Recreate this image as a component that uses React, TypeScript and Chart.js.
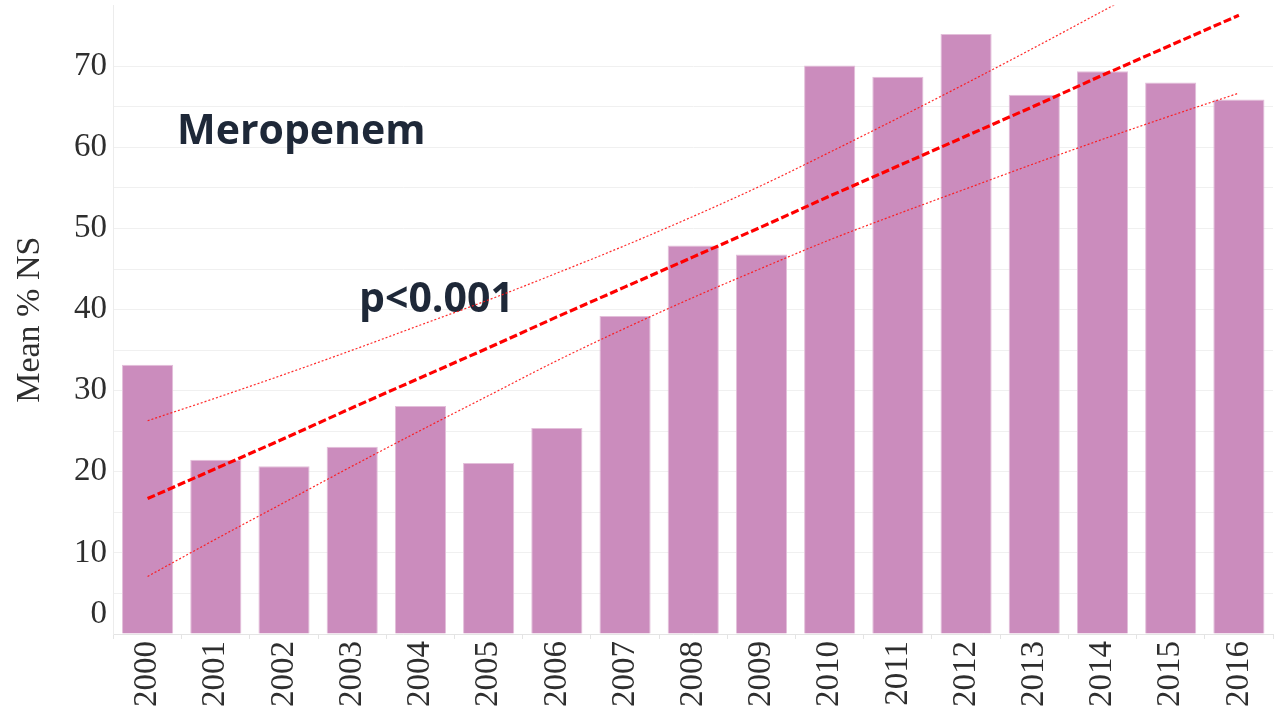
import { useEffect, useRef } from 'react';
import { Chart, registerables } from 'chart.js';

Chart.register(...registerables);

// ---- data ----
const years = ['2000', '2001', '2002', '2003', '2004', '2005', '2006', '2007', '2008', '2009', '2010', '2011', '2012', '2013', '2014', '2015', '2016'];
const meanNS = [33.2, 21.5, 20.7, 23.1, 28.1, 21.1, 25.4, 39.2, 47.9, 46.8, 70.1, 68.7, 74.0, 66.5, 69.4, 68.0, 65.9];
const trendFit = [16.7, 20.4, 24.1, 27.9, 31.6, 35.3, 39.1, 42.8, 46.5, 50.2, 54.0, 57.7, 61.4, 65.1, 68.9, 72.6, 76.3];
const trendUpper = [26.3, 29.1, 32.0, 35.0, 38.1, 41.2, 44.5, 47.9, 51.5, 55.3, 59.4, 63.6, 67.9, 72.3, 76.8, 81.3, null];
const trendLower = [7.1, 11.7, 16.2, 20.7, 25.1, 29.4, 33.7, 37.7, 41.5, 45.1, 48.6, 51.8, 54.9, 58.0, 61.0, 63.9, 66.7];
const yTickLabels = [0, 10, 20, 30, 40, 50, 60, 70];
const yTitle = 'Mean % NS';
const drugLabel = 'Meropenem';
const pLabel = 'p<0.001';

const SERIF = "'Liberation Serif', 'Times New Roman', serif";

export default function App() {
  const ref = useRef<HTMLCanvasElement>(null);

  useEffect(() => {
    if (!ref.current) return;

    const annotations = {
      id: 'annotations',
      beforeDatasetsDraw(chart: any) {
        const ctx = chart.ctx;
        ctx.save();
        ctx.fillStyle = '#1E2838';
        ctx.font = "bold 41px 'Open Sans'";
        ctx.textBaseline = 'alphabetic';
        ctx.textAlign = 'left';
        ctx.fillText(drugLabel, 177, 144);
        ctx.fillText(pLabel, 359, 312);
        ctx.restore();
      },
    };

    const chart = new Chart(ref.current, {
      type: 'bar',
      data: {
        labels: years,
        datasets: [
          {
            type: 'line',
            label: 'fit',
            data: trendFit,
            borderColor: '#FF0000',
            borderWidth: 3.2,
            borderDash: [8, 3],
            pointRadius: 0,
            fill: false,
            order: 0,
          } as any,
          {
            type: 'line',
            label: 'upper',
            data: trendUpper,
            borderColor: 'rgba(255,20,20,0.9)',
            borderWidth: 1.2,
            borderDash: [2, 2],
            pointRadius: 0,
            cubicInterpolationMode: 'monotone',
            fill: false,
            order: 0,
          } as any,
          {
            type: 'line',
            label: 'lower',
            data: trendLower,
            borderColor: 'rgba(255,20,20,0.9)',
            borderWidth: 1.2,
            borderDash: [2, 2],
            pointRadius: 0,
            cubicInterpolationMode: 'monotone',
            fill: false,
            order: 0,
          } as any,
          {
            type: 'bar',
            label: yTitle,
            data: meanNS,
            backgroundColor: '#CB8CBD',
            borderColor: '#E3BFDA',
            borderWidth: 1,
            barPercentage: 0.75,
            categoryPercentage: 1.0,
            order: 1,
          } as any,
        ],
      },
      options: {
        animation: false,
        responsive: true,
        maintainAspectRatio: false,
        layout: { padding: { top: 5.5, right: 7, left: 0, bottom: 0 } },
        plugins: {
          legend: { display: false },
          tooltip: { enabled: false },
        },
        scales: {
          x: {
            grid: {
              drawOnChartArea: false,
              drawTicks: true,
              tickLength: 5,
              color: '#E4E4E4',
            },
            border: { color: '#E4E4E4' },
            ticks: {
              font: { family: SERIF, size: 33 },
              color: '#2E2E2E',
              minRotation: 90,
              maxRotation: 90,
              padding: 2,
              autoSkip: false,
            },
            afterFit: (s: any) => {
              s.height = 86;
              s.paddingLeft = 0;
              s.paddingRight = 0;
            },
          },
          y: {
            min: 0,
            max: 77.5,
            ticks: {
              stepSize: 5,
              autoSkip: false,
              padding: 6.5,
              color: '#2E2E2E',
              font: { family: SERIF, size: 33 },
              callback: (value: any) => {
                const v = Number(value);
                if (!yTickLabels.includes(v)) return '';
                return v === 0 ? ['0', ''] : String(v);
              },
            },
            grid: {
              color: (ctx: any) => (ctx.tick && ctx.tick.value > 75 ? 'rgba(0,0,0,0)' : '#F0F0F0'),
              drawTicks: false,
            },
            border: { color: '#ECECEC' },
            title: {
              display: true,
              text: yTitle,
              font: { family: SERIF, size: 34 },
              color: '#2E2E2E',
              padding: { top: 10, bottom: 0 },
            },
            afterFit: (s: any) => {
              s.width = 113.5;
              s.paddingTop = 0;
              s.paddingBottom = 0;
            },
          },
        },
      },
      plugins: [annotations],
    });

    return () => chart.destroy();
  }, []);

  return (
    <div style={{ position: 'fixed', left: 0, top: 0, width: 1280, height: 720, background: '#ffffff' }}>
      <canvas ref={ref} />
    </div>
  );
}
